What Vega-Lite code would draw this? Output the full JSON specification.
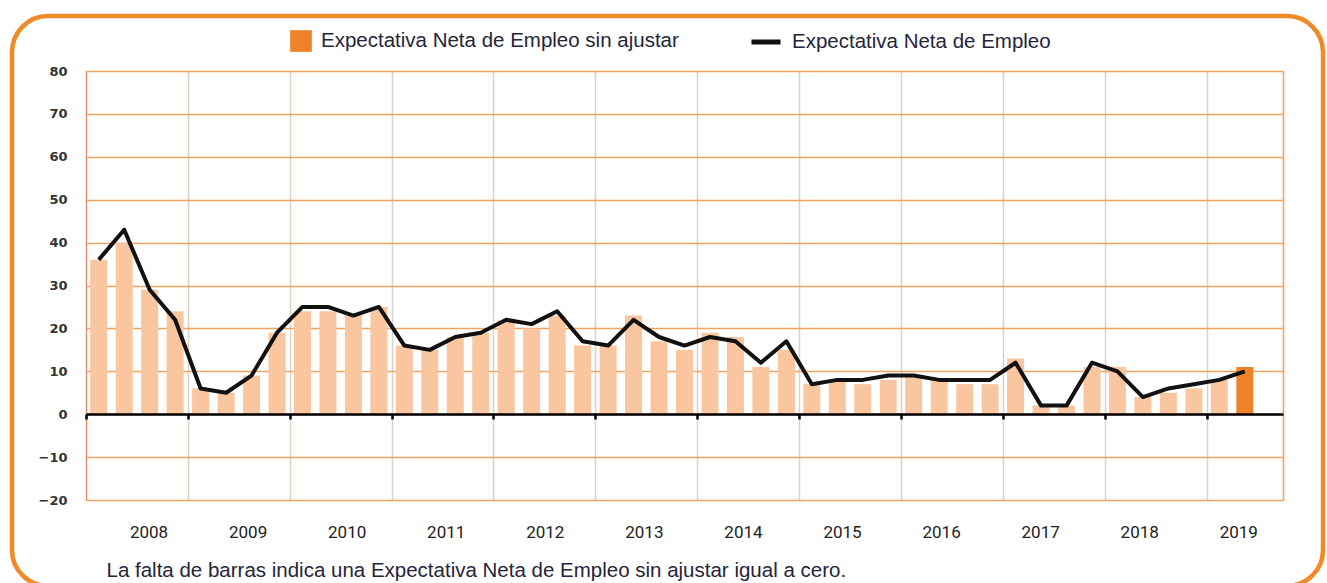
{
  "$schema": "https://vega.github.io/schema/vega-lite/v6.json",
  "width": 1311,
  "height": 570,
  "autosize": {"type": "none"},
  "padding": {"left": 12, "top": 16, "right": 4, "bottom": 0},
  "background": "white",
  "config": {
    "view": {"stroke": "#F08A26", "strokeWidth": 4.5, "cornerRadius": 36, "fill": "white"}
  },
  "data": {
    "values": [
      {"trimestre": 0, "periodo": "2008 T1", "sin_ajustar": 36, "neta": 36, "serie": "Trimestres anteriores"},
      {"trimestre": 1, "periodo": "2008 T2", "sin_ajustar": 40, "neta": 43, "serie": "Trimestres anteriores"},
      {"trimestre": 2, "periodo": "2008 T3", "sin_ajustar": 29, "neta": 29, "serie": "Trimestres anteriores"},
      {"trimestre": 3, "periodo": "2008 T4", "sin_ajustar": 24, "neta": 22, "serie": "Trimestres anteriores"},
      {"trimestre": 4, "periodo": "2009 T1", "sin_ajustar": 6, "neta": 6, "serie": "Trimestres anteriores"},
      {"trimestre": 5, "periodo": "2009 T2", "sin_ajustar": 5, "neta": 5, "serie": "Trimestres anteriores"},
      {"trimestre": 6, "periodo": "2009 T3", "sin_ajustar": 9, "neta": 9, "serie": "Trimestres anteriores"},
      {"trimestre": 7, "periodo": "2009 T4", "sin_ajustar": 19, "neta": 19, "serie": "Trimestres anteriores"},
      {"trimestre": 8, "periodo": "2010 T1", "sin_ajustar": 24, "neta": 25, "serie": "Trimestres anteriores"},
      {"trimestre": 9, "periodo": "2010 T2", "sin_ajustar": 24, "neta": 25, "serie": "Trimestres anteriores"},
      {"trimestre": 10, "periodo": "2010 T3", "sin_ajustar": 23, "neta": 23, "serie": "Trimestres anteriores"},
      {"trimestre": 11, "periodo": "2010 T4", "sin_ajustar": 25, "neta": 25, "serie": "Trimestres anteriores"},
      {"trimestre": 12, "periodo": "2011 T1", "sin_ajustar": 16, "neta": 16, "serie": "Trimestres anteriores"},
      {"trimestre": 13, "periodo": "2011 T2", "sin_ajustar": 15, "neta": 15, "serie": "Trimestres anteriores"},
      {"trimestre": 14, "periodo": "2011 T3", "sin_ajustar": 18, "neta": 18, "serie": "Trimestres anteriores"},
      {"trimestre": 15, "periodo": "2011 T4", "sin_ajustar": 19, "neta": 19, "serie": "Trimestres anteriores"},
      {"trimestre": 16, "periodo": "2012 T1", "sin_ajustar": 22, "neta": 22, "serie": "Trimestres anteriores"},
      {"trimestre": 17, "periodo": "2012 T2", "sin_ajustar": 20, "neta": 21, "serie": "Trimestres anteriores"},
      {"trimestre": 18, "periodo": "2012 T3", "sin_ajustar": 23, "neta": 24, "serie": "Trimestres anteriores"},
      {"trimestre": 19, "periodo": "2012 T4", "sin_ajustar": 16, "neta": 17, "serie": "Trimestres anteriores"},
      {"trimestre": 20, "periodo": "2013 T1", "sin_ajustar": 16, "neta": 16, "serie": "Trimestres anteriores"},
      {"trimestre": 21, "periodo": "2013 T2", "sin_ajustar": 23, "neta": 22, "serie": "Trimestres anteriores"},
      {"trimestre": 22, "periodo": "2013 T3", "sin_ajustar": 17, "neta": 18, "serie": "Trimestres anteriores"},
      {"trimestre": 23, "periodo": "2013 T4", "sin_ajustar": 15, "neta": 16, "serie": "Trimestres anteriores"},
      {"trimestre": 24, "periodo": "2014 T1", "sin_ajustar": 19, "neta": 18, "serie": "Trimestres anteriores"},
      {"trimestre": 25, "periodo": "2014 T2", "sin_ajustar": 18, "neta": 17, "serie": "Trimestres anteriores"},
      {"trimestre": 26, "periodo": "2014 T3", "sin_ajustar": 11, "neta": 12, "serie": "Trimestres anteriores"},
      {"trimestre": 27, "periodo": "2014 T4", "sin_ajustar": 15, "neta": 17, "serie": "Trimestres anteriores"},
      {"trimestre": 28, "periodo": "2015 T1", "sin_ajustar": 7, "neta": 7, "serie": "Trimestres anteriores"},
      {"trimestre": 29, "periodo": "2015 T2", "sin_ajustar": 8, "neta": 8, "serie": "Trimestres anteriores"},
      {"trimestre": 30, "periodo": "2015 T3", "sin_ajustar": 7, "neta": 8, "serie": "Trimestres anteriores"},
      {"trimestre": 31, "periodo": "2015 T4", "sin_ajustar": 8, "neta": 9, "serie": "Trimestres anteriores"},
      {"trimestre": 32, "periodo": "2016 T1", "sin_ajustar": 9, "neta": 9, "serie": "Trimestres anteriores"},
      {"trimestre": 33, "periodo": "2016 T2", "sin_ajustar": 8, "neta": 8, "serie": "Trimestres anteriores"},
      {"trimestre": 34, "periodo": "2016 T3", "sin_ajustar": 7, "neta": 8, "serie": "Trimestres anteriores"},
      {"trimestre": 35, "periodo": "2016 T4", "sin_ajustar": 7, "neta": 8, "serie": "Trimestres anteriores"},
      {"trimestre": 36, "periodo": "2017 T1", "sin_ajustar": 13, "neta": 12, "serie": "Trimestres anteriores"},
      {"trimestre": 37, "periodo": "2017 T2", "sin_ajustar": 2, "neta": 2, "serie": "Trimestres anteriores"},
      {"trimestre": 38, "periodo": "2017 T3", "sin_ajustar": 2, "neta": 2, "serie": "Trimestres anteriores"},
      {"trimestre": 39, "periodo": "2017 T4", "sin_ajustar": 11, "neta": 12, "serie": "Trimestres anteriores"},
      {"trimestre": 40, "periodo": "2018 T1", "sin_ajustar": 11, "neta": 10, "serie": "Trimestres anteriores"},
      {"trimestre": 41, "periodo": "2018 T2", "sin_ajustar": 4, "neta": 4, "serie": "Trimestres anteriores"},
      {"trimestre": 42, "periodo": "2018 T3", "sin_ajustar": 5, "neta": 6, "serie": "Trimestres anteriores"},
      {"trimestre": 43, "periodo": "2018 T4", "sin_ajustar": 6, "neta": 7, "serie": "Trimestres anteriores"},
      {"trimestre": 44, "periodo": "2019 T1", "sin_ajustar": 8, "neta": 8, "serie": "Trimestres anteriores"},
      {"trimestre": 45, "periodo": "2019 T2", "sin_ajustar": 11, "neta": 10, "serie": "Expectativa Neta de Empleo sin ajustar"}
    ]
  },
  "resolve": {"axis": {"x": "independent"}},
  "layer": [
    {
      "mark": {"type": "bar", "size": 17},
      "encoding": {
        "x": {
          "field": "trimestre",
          "type": "quantitative",
          "scale": {"domain": [-0.5, 46.5], "range": [74, 1271], "nice": false, "zero": false, "padding": 0},
          "axis": {
            "orient": "top",
            "values": [-0.5, 3.5, 7.5, 11.5, 15.5, 19.5, 23.5, 27.5, 31.5, 35.5, 39.5, 43.5, 46.5],
            "domain": false,
            "ticks": false,
            "labels": false,
            "title": null,
            "grid": true,
            "gridColor": {"condition": {"test": "datum.value > 45", "value": "#EFA05C"}, "value": "#DDD0C4"},
            "gridWidth": 1.5
          }
        },
        "y": {
          "field": "sin_ajustar",
          "type": "quantitative",
          "scale": {"domain": [-20, 80], "range": [484, 55], "nice": false, "padding": 0},
          "axis": {
            "orient": "left",
            "offset": -74,
            "values": [-20, -10, 0, 10, 20, 30, 40, 50, 60, 70, 80],
            "domain": true,
            "domainColor": "#E58A6E",
            "domainWidth": 1.2,
            "ticks": false,
            "grid": true,
            "gridColor": "#F0A35E",
            "gridWidth": 1.5,
            "labelFont": "DejaVu Sans",
            "labelFontWeight": "bold",
            "labelFontSize": 13,
            "labelColor": "#333333",
            "labelPadding": 19,
            "title": null
          }
        },
        "fill": {
          "field": "serie",
          "type": "nominal",
          "scale": {"domain": ["Expectativa Neta de Empleo sin ajustar", "Trimestres anteriores"], "range": ["#EE8228", "#F9C6A0"]},
          "legend": {
            "orient": "none",
            "legendX": 278,
            "legendY": 14,
            "values": ["Expectativa Neta de Empleo sin ajustar"],
            "title": null,
            "symbolType": "square",
            "symbolSize": 470,
            "symbolStrokeWidth": 0,
            "labelFont": "Liberation Sans",
            "labelFontSize": 20.5,
            "labelColor": "#25253A",
            "labelOffset": 9,
            "labelLimit": 500,
            "padding": 0
          }
        }
      }
    },
    {
      "mark": {"type": "line", "strokeWidth": 4, "strokeJoin": "round"},
      "encoding": {
        "x": {
          "field": "trimestre",
          "type": "quantitative",
          "axis": {
            "orient": "bottom",
            "offset": -172,
            "values": [-0.5, 3.5, 7.5, 11.5, 15.5, 19.5, 23.5, 27.5, 31.5, 35.5, 39.5, 43.5],
            "grid": false,
            "domain": true,
            "domainColor": "#000000",
            "domainWidth": 2.5,
            "ticks": true,
            "tickColor": "#000000",
            "tickSize": 5,
            "tickWidth": 2.5,
            "labelExpr": "'' + (2008 + (datum.value + 0.5) / 4)",
            "labelOffset": {"expr": "62.5 - 0.7 * (datum.value + 0.5)"},
            "labelPadding": 113,
            "labelBaseline": "middle",
            "labelFont": "Roboto",
            "labelFontSize": 17,
            "labelColor": "#222222",
            "labelFlush": false,
            "labelOverlap": false,
            "title": "La falta de barras indica una Expectativa Neta de Empleo sin ajustar igual a cero.",
            "titleX": 94,
            "titleY": 156,
            "titleAlign": "left",
            "titleBaseline": "middle",
            "titleFont": "Liberation Sans",
            "titleFontSize": 20.5,
            "titleFontWeight": "normal",
            "titleColor": "#25253A",
            "zindex": 1
          }
        },
        "y": {"field": "neta", "type": "quantitative"},
        "stroke": {
          "datum": "Expectativa Neta de Empleo",
          "type": "nominal",
          "scale": {"range": ["#111111"]},
          "legend": {
            "orient": "none",
            "legendX": 737,
            "legendY": 9,
            "title": null,
            "symbolType": "stroke",
            "symbolSize": 841,
            "symbolStrokeWidth": 5,
            "labelFont": "Liberation Sans",
            "labelFontSize": 20.5,
            "labelColor": "#25253A",
            "labelOffset": 9,
            "labelLimit": 500,
            "padding": 0
          }
        }
      }
    }
  ]
}
